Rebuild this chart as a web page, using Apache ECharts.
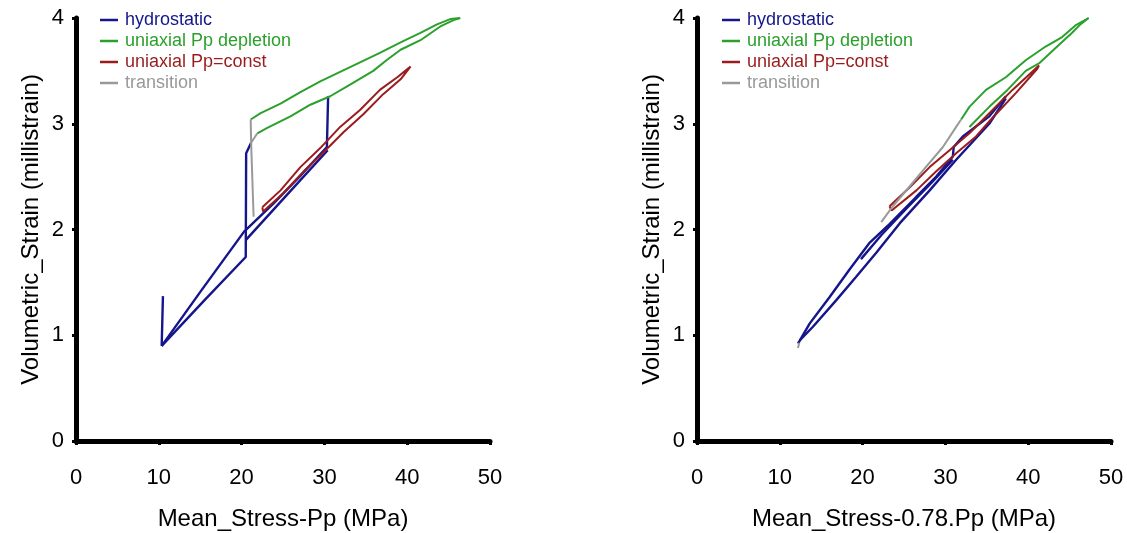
<!DOCTYPE html>
<html><head><meta charset="utf-8">
<script src="https://cdn.jsdelivr.net/npm/echarts@6/dist/echarts.min.js"></script>
<style>html,body{margin:0;padding:0;background:#fff}#c{width:1127px;height:533px}</style>
</head><body><div id="c"></div>
<script>
// ---- labels ----
const seriesNames = ['hydrostatic', 'uniaxial Pp depletion', 'uniaxial Pp=const', 'transition'];
const xTitles = ['Mean_Stress-Pp (MPa)', 'Mean_Stress-0.78.Pp (MPa)'];
const yTitle = 'Volumetric_Strain (millistrain)';
const xTicks = [0, 10, 20, 30, 40, 50];
const yTicks = [0, 1, 2, 3, 4];

// ---- left panel: Mean_Stress-Pp ----
const hydroL1 = [[10.5,1.37],[10.35,0.9],[15.1,1.42],[20.3,1.98],[23.9,2.25],[27.0,2.50],[30.3,2.78],[30.45,3.26]];
const hydroL2 = [[30.4,2.75],[25.5,2.33],[20.5,1.90]];
const hydroL3 = [[10.35,0.9],[15.5,1.33],[20.5,1.74],[20.55,2.72],[21.15,2.82]];
const depL1 = [[21.1,3.04],[22.3,3.10],[24.7,3.19],[27.1,3.30],[29.5,3.40],[31.9,3.49],[34.3,3.58],[36.7,3.67],[39.2,3.77],[41.6,3.86],[43.6,3.94],[45.2,3.99],[46.4,4.0]];
const depL2 = [[21.9,2.91],[23.1,2.96],[25.9,3.07],[28.3,3.18],[30.7,3.26],[33.1,3.37],[35.9,3.50],[37.5,3.60],[39.2,3.70],[41.6,3.79],[44.0,3.92],[45.6,3.98],[46.4,4.0]];
const constL = [[22.5,2.21],[24.7,2.37],[27.1,2.59],[29.5,2.77],[31.9,2.97],[34.3,3.13],[36.7,3.32],[38.8,3.44],[40.4,3.54],
                [39.2,3.42],[37.1,3.28],[34.7,3.09],[32.3,2.92],[29.9,2.73],[27.5,2.55],[25.0,2.34],[22.6,2.17],[22.5,2.21]];
const transL1 = [[21.1,3.04],[21.15,2.82],[21.45,2.12]];
const transL2 = [[21.9,2.91],[21.15,2.82]];

// ---- right panel: Mean_Stress-0.78.Pp ----
const hydroR1 = [[12.2,0.92],[13.6,1.11],[16.0,1.36],[18.4,1.62],[20.8,1.87],[23.25,2.05],[26.5,2.31],[28.9,2.50],[30.9,2.69],[31.0,2.78],[32.1,2.88],[35.3,3.07],[37.3,3.26]];
const hydroR2 = [[12.4,0.95],[14.0,1.08],[16.8,1.33],[19.2,1.55],[21.65,1.78],[24.5,2.06],[28.1,2.37],[31.3,2.66],[35.3,3.0],[37.3,3.24]];
const hydroR3 = [[19.8,1.72],[22.3,1.95],[25.3,2.20],[28.3,2.44],[30.9,2.66]];
const depR1 = [[31.9,3.04],[32.9,3.16],[34.9,3.32],[37.3,3.44],[39.7,3.60],[42.1,3.73],[44.1,3.82],[45.7,3.93],[47.3,4.0]];
const depR2 = [[32.9,2.97],[35.3,3.16],[37.5,3.32],[39.7,3.50],[41.3,3.57],[43.5,3.73],[45.3,3.86],[46.3,3.94],[47.3,4.0]];
const constR = [[23.25,2.22],[25.7,2.40],[28.1,2.59],[30.5,2.75],[32.9,2.91],[35.3,3.10],[38.1,3.32],[41.3,3.55],
                [41.1,3.52],[38.5,3.29],[35.5,3.04],[33.7,2.88],[31.3,2.72],[28.9,2.55],[26.5,2.37],[23.5,2.18],[23.25,2.22]];
const transR1 = [[22.25,2.07],[23.65,2.22],[25.5,2.39],[27.3,2.56],[29.7,2.78],[31.3,2.97],[31.9,3.04]];
const transR2 = [[12.2,0.88],[12.35,0.93]];

const colors = ['#15158c', '#2ca02c', '#9a1c1c', '#999999'];
const FONT = '"Liberation Sans", Arial, sans-serif';

const grids = [
  {left: 76, top: 18, width: 414, height: 423, outerBoundsMode: 'none', containLabel: false},
  {left: 697, top: 18, width: 414, height: 423, outerBoundsMode: 'none', containLabel: false}
];

function xAxis(i) {
  return {
    type: 'value', gridIndex: i, min: 0, max: 50, interval: 10,
    name: xTitles[i], nameLocation: 'middle', nameGap: 66,
    nameTextStyle: {fontSize: 24, color: '#000', fontFamily: FONT},
    axisLine: {lineStyle: {color: '#000', width: 5}},
    axisTick: {show: true, length: 4, lineStyle: {color: '#000', width: 3}},
    axisLabel: {fontSize: 22, color: '#000', fontFamily: FONT, margin: 26,
      formatter: v => xTicks.includes(v) ? String(v) : ''},
    splitLine: {show: false}
  };
}
function yAxis(i) {
  return {
    type: 'value', gridIndex: i, min: 0, max: 4, interval: 1,
    name: yTitle, nameLocation: 'middle', nameGap: 33,
    nameTextStyle: {fontSize: 24, color: '#000', fontFamily: FONT},
    axisLine: {lineStyle: {color: '#000', width: 5}},
    axisTick: {show: true, length: 4, lineStyle: {color: '#000', width: 3}},
    axisLabel: {fontSize: 22, color: '#000', fontFamily: FONT, margin: 12,
      formatter: v => yTicks.includes(v) ? String(v) : ''},
    splitLine: {show: false}
  };
}

const panels = [
  [[hydroL1, hydroL2, hydroL3], [depL1, depL2], [constL], [transL1, transL2]],
  [[hydroR1, hydroR2, hydroR3], [depR1, depR2], [constR], [transR1, transR2]]
];
const series = [];
panels.forEach((p, gi) => {
  // draw order: hydrostatic, transition, depletion, const
  [0, 3, 1, 2].forEach(k => {
    p[k].forEach(d => {
      series.push({
        type: 'line', name: seriesNames[k], xAxisIndex: gi, yAxisIndex: gi,
        data: d, showSymbol: false, symbol: 'none', smooth: false,
        lineStyle: {color: colors[k], width: k === 0 ? 2.4 : 2},
        itemStyle: {color: colors[k]},
        z: 2 + k
      });
    });
  });
});

function legend(left) {
  return {
    left: left, top: 6, orient: 'vertical', icon: 'rect',
    itemWidth: 18, itemHeight: 2.5, itemGap: 3,
    selectedMode: false,
    textStyle: {fontSize: 18, fontFamily: FONT, lineHeight: 18, padding: [0,0,0,2]},
    data: seriesNames.map((n, k) => ({name: n, itemStyle: {color: colors[k]}, textStyle: {color: colors[k]}}))
  };
}

const chart = echarts.init(document.getElementById('c'), null, {renderer: 'canvas'});
chart.setOption({
  animation: false,
  backgroundColor: '#fff',
  grid: grids,
  xAxis: [xAxis(0), xAxis(1)],
  yAxis: [yAxis(0), yAxis(1)],
  legend: [legend(95), legend(717)],
  series: series
});
</script></body></html>
